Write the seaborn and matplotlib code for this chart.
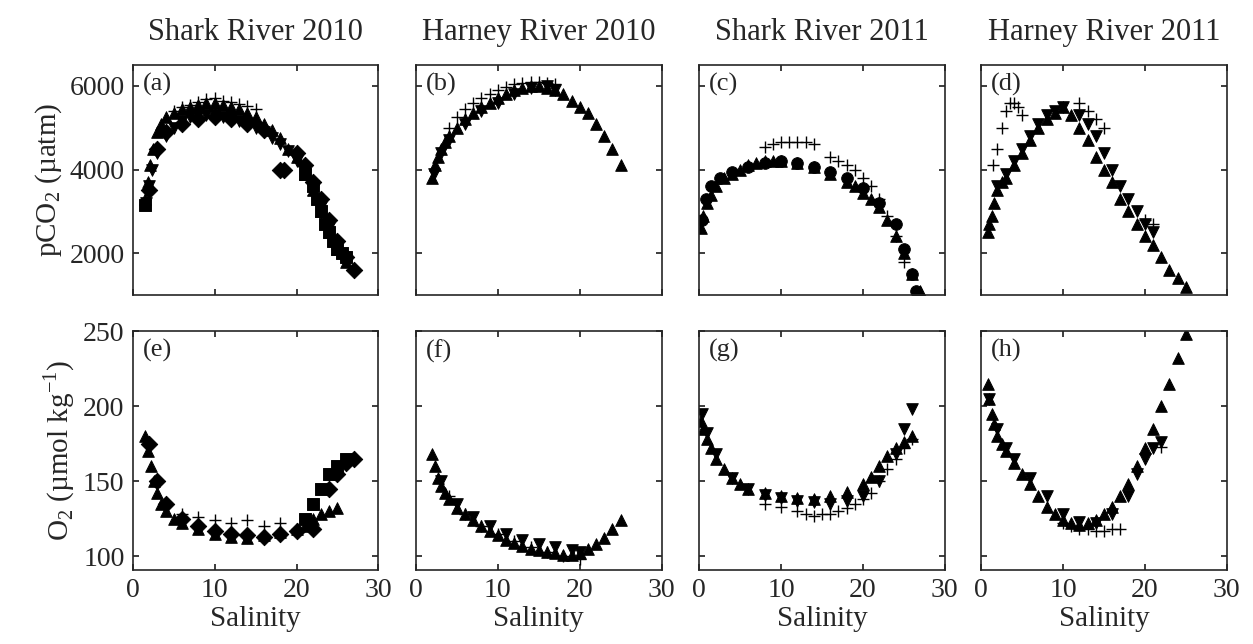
import matplotlib
matplotlib.use("Agg")
import matplotlib.pyplot as plt
import seaborn as sns
import pandas as pd

titles = ["Shark River 2010", "Harney River 2010", "Shark River 2011", "Harney River 2011"]
letters = ["(a)", "(b)", "(c)", "(d)", "(e)", "(f)", "(g)", "(h)"]

# ---- pCO2 panels: (salinity, pCO2) per marker series ----
a_up_s = [1.5,1.8,2.1,2.5,3,3.5,4,5,6,7,8,9,10,11,12,13,14,15,16,17,18,19,20,21,22,23,24,25,26]
a_up_p = [3300,3700,4100,4500,4900,5100,5250,5350,5450,5500,5550,5600,5600,5550,5500,5450,5350,5250,5100,4950,4750,4500,4300,3900,3500,3000,2500,2100,1800]
a_dn_s = [1.6,2,2.4,3,4,5,6,7,8,9,10,11,12,13,14,15,16,17,18,19,20,21,22,23,24,25]
a_dn_p = [3200,3600,4000,4400,4800,5000,5150,5250,5300,5300,5300,5250,5200,5150,5100,5000,4900,4750,4600,4450,4200,3900,3500,3100,2600,2200]
a_d_s = [2,3,4,6,8,10,12,14,16,18,18.5,20,21,22,23,24,25,26,27]
a_d_p = [3500,4500,4900,5100,5200,5250,5200,5100,4950,4000,4000,4400,4100,3700,3300,2800,2300,1900,1600]
a_pl_s = [5,6,7,8,9,10,11,12,13,14,15,22,23,24,25]
a_pl_p = [5400,5500,5550,5620,5680,5700,5650,5620,5580,5520,5450,3400,2900,2500,2100]
a_sq_s = [1.5,21,22,22.5,23,23.5,24,24.5,25,25.5,26]
a_sq_p = [3150,3900,3600,3300,3000,2700,2500,2300,2100,2000,1900]

b_up_s = [2,2.3,2.7,3,3.5,4,5,6,7,8,9,10,11,12,13,14,15,16,17,18,19,20,21,22,23,24,25]
b_up_p = [3800,4100,4300,4500,4650,4800,5000,5200,5350,5500,5600,5700,5800,5900,5950,6000,6000,5950,5900,5800,5650,5500,5350,5100,4800,4500,4100]
b_pl_s = [4,5,6,7,8,9,10,11,12,13,14,15,16,17]
b_pl_p = [5000,5250,5450,5600,5700,5800,5900,5980,6050,6080,6100,6100,6080,6050]
b_dn_s = [2.2,3,4,6,8,10,12,14,16,17]
b_dn_p = [3900,4400,4700,5100,5400,5600,5800,5950,6000,5900]

c_up_s = [0.2,0.5,1,1.5,2,3,4,5,6,7,8,9,10,12,14,16,18,19,20,21,22,23,24,25,26,27]
c_up_p = [2600,2900,3200,3400,3600,3800,3900,4000,4100,4150,4200,4200,4200,4150,4050,3900,3700,3600,3450,3300,3100,2800,2400,2000,1500,1100]
c_o_s = [0.3,0.8,1.5,2.5,4,6,8,10,12,14,16,18,20,22,24,25,26,26.5]
c_o_p = [2800,3300,3600,3800,3950,4050,4150,4200,4150,4050,3950,3800,3550,3200,2700,2100,1500,1100]
c_pl_s = [8,9,10,11,12,13,14,16,17,18,19,20,21,22,23,24,25]
c_pl_p = [4550,4600,4650,4650,4650,4650,4600,4300,4200,4100,4000,3800,3600,3300,2900,2400,1800]

d_up_s = [0.8,1,1.3,1.6,2,2.5,3,4,5,6,7,8,9,10,11,12,13,14,15,16,17,18,19,20,21,22,23,24,25]
d_up_p = [2500,2700,2900,3200,3500,3700,3800,4100,4400,4700,5000,5200,5350,5500,5300,5000,4700,4300,4000,3700,3300,3000,2700,2400,2200,1900,1600,1400,1200]
d_dn_s = [2,3,4,5,6,7,8,9,10,12,13,14,15,16,17,18,19,20,21]
d_dn_p = [3600,3900,4200,4500,4800,5100,5300,5400,5500,5300,5100,4800,4400,4000,3600,3300,3000,2700,2500]
d_pl_s = [1.5,2,2.5,3,3.5,4,4.5,5,12,13,14,15,20,21]
d_pl_p = [4100,4500,5000,5400,5600,5600,5500,5300,5600,5400,5200,5000,2800,2700]

# ---- O2 panels ----
e_up_s = [1.5,1.8,2.2,2.6,3,3.5,4,5,6,8,10,12,14,16,18,20,21,22,23,24,25]
e_up_o = [180,170,160,150,142,135,130,125,122,118,115,113,112,114,116,118,120,125,128,130,132]
e_d_s = [2,3,4,6,8,10,12,14,16,18,20,22,24,25,26,27]
e_d_o = [175,150,135,125,120,117,115,114,113,115,117,118,145,155,162,165]
e_pl_s = [6,8,10,12,14,16,18,20]
e_pl_o = [128,126,124,122,124,120,122,118]
e_sq_s = [21,22,23,24,25,26]
e_sq_o = [125,135,145,155,160,165]

f_up_s = [2,2.3,2.7,3,3.5,4,5,6,7,8,9,10,11,12,13,14,15,16,17,18,19,20,21,22,23,24,25]
f_up_o = [168,160,152,147,142,138,132,128,124,120,117,114,111,109,107,105,104,103,102,101,101,102,105,108,112,118,124]
f_dn_s = [3,5,7,9,11,13,15,17,19,20]
f_dn_o = [150,135,126,120,115,111,108,106,104,103]
f_pl_s = [4,6,8,10,12,14,16,18,20]
f_pl_o = [140,128,120,115,110,106,103,100,98]

g_up_s = [0.2,0.5,1,1.5,2,3,4,5,6,8,10,12,14,16,18,20,21,22,23,24,25,26]
g_up_o = [190,185,178,172,165,158,152,148,145,142,140,139,138,140,143,148,153,160,167,172,176,180]
g_dn_s = [0.3,1,2,4,6,8,10,12,14,16,18,20,22,24,25,26]
g_dn_o = [195,182,168,152,145,141,139,137,136,135,137,140,150,168,185,198]
g_pl_s = [8,10,12,13,14,15,16,17,18,19,20,21,22,23,24,25,26]
g_pl_o = [135,133,130,128,127,128,128,130,132,135,138,142,150,158,165,172,178]

h_up_s = [0.8,1,1.3,1.6,2,2.5,3,4,5,6,7,8,9,10,11,12,13,14,15,16,17,18,19,20,21,22,23,24,25]
h_up_o = [215,205,195,188,180,175,170,162,155,148,140,133,128,124,122,121,122,124,128,133,140,148,160,172,185,200,215,232,248]
h_dn_s = [1,2,3,4,6,8,10,12,14,16,18,19,20,21,22]
h_dn_o = [205,185,172,165,152,140,128,123,122,128,140,155,165,172,176]
h_pl_s = [10,11,12,13,14,15,16,17,22]
h_pl_o = [122,120,118,118,117,117,118,118,173]

top = [
    [(a_up_s, a_up_p, "^"), (a_dn_s, a_dn_p, "v"), (a_d_s, a_d_p, "D"), (a_pl_s, a_pl_p, "+"), (a_sq_s, a_sq_p, "s")],
    [(b_up_s, b_up_p, "^"), (b_pl_s, b_pl_p, "+"), (b_dn_s, b_dn_p, "v")],
    [(c_up_s, c_up_p, "^"), (c_o_s, c_o_p, "o"), (c_pl_s, c_pl_p, "+")],
    [(d_up_s, d_up_p, "^"), (d_dn_s, d_dn_p, "v"), (d_pl_s, d_pl_p, "+")],
]
bot = [
    [(e_up_s, e_up_o, "^"), (e_d_s, e_d_o, "D"), (e_pl_s, e_pl_o, "+"), (e_sq_s, e_sq_o, "s")],
    [(f_up_s, f_up_o, "^"), (f_dn_s, f_dn_o, "v"), (f_pl_s, f_pl_o, "+")],
    [(g_up_s, g_up_o, "^"), (g_dn_s, g_dn_o, "v"), (g_pl_s, g_pl_o, "+")],
    [(h_up_s, h_up_o, "^"), (h_dn_s, h_dn_o, "v"), (h_pl_s, h_pl_o, "+")],
]

sns.set_theme(style="ticks")
plt.rcParams["font.family"] = ["Liberation Serif", "DejaVu Serif"]
plt.rcParams["mathtext.fontset"] = "custom"
plt.rcParams["mathtext.rm"] = "Liberation Serif"

fig = plt.figure(figsize=(12.53, 6.44), dpi=100)
lefts = [0.106, 0.332, 0.558, 0.783]
w = 0.196
for i in range(4):
    for r, (rows, ylim, yt) in enumerate([(top, (1000, 6500), [2000, 4000, 6000]),
                                           (bot, (91, 250), [100, 150, 200, 250])]):
        if r == 0:
            rect = [lefts[i], 0.542, w, 0.357]
        else:
            rect = [lefts[i], 0.115, w, 0.371]
        ax = fig.add_axes(rect)
        for xs, ys, m in rows[i]:
            df = pd.DataFrame({"s": xs, "v": ys})
            if m == "+":
                sns.scatterplot(data=df, x="s", y="v", marker="+", color="black", s=70, linewidth=1.0, ax=ax)
            else:
                sns.scatterplot(data=df, x="s", y="v", marker=m, color="black", s=70, edgecolor="black", ax=ax)
        ax.set_xlim(0, 30)
        ax.set_ylim(*ylim)
        ax.set_xticks([0, 10, 20, 30])
        ax.set_yticks(yt)
        ax.tick_params(direction="in", labelsize=20, top=True, right=True, length=4, pad=6)
        for sp in ax.spines.values():
            sp.set_visible(True)
            sp.set_linewidth(1.2)
        ax.set_xlabel("")
        ax.set_ylabel("")
        if i > 0:
            ax.set_yticklabels([])
        if r == 0:
            ax.set_xticklabels([])
            ax.set_title(titles[i], fontsize=22, pad=18)
        else:
            ax.set_xlabel("Salinity", fontsize=21, labelpad=2)
        ax.text(0.04, 0.965, letters[r * 4 + i], transform=ax.transAxes, fontsize=19, va="top")
        if i == 0:
            ax.set_ylabel("pCO$_2$ (µatm)" if r == 0 else "O$_2$ (µmol kg$^{-1}$)", fontsize=21)

fig.savefig("out.png", dpi=100)
